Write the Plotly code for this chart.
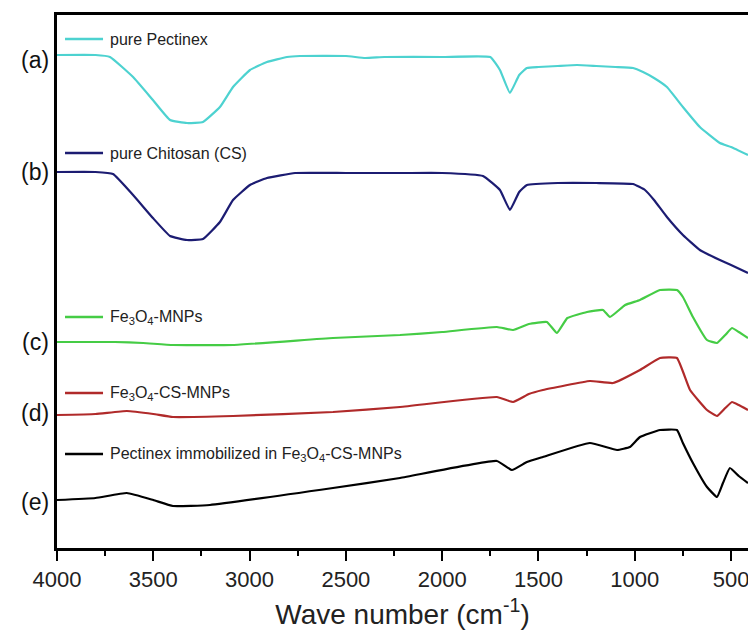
import plotly.graph_objects as go

# Wavenumbers (cm^-1) and offset transmittance (arbitrary units)
wn_a = [4000, 3800, 3725, 3605, 3502, 3413, 3325, 3242, 3154, 3086, 2998, 2910, 2806, 2738, 2500, 2400, 2300, 2000,
        1750, 1700, 1648, 1600, 1560, 1500, 1400, 1300, 1200, 1100, 1009, 957, 900, 833, 750, 662, 558, 500, 412]
t_a = [493, 493, 491, 471, 448, 428, 425, 426, 441, 461, 478, 486, 491, 492, 492, 490, 491, 491,
       491, 478, 455, 473, 480, 481, 482, 483, 482, 481, 480, 476, 470, 461, 441, 421, 405, 401, 393]

wn_b = [4000, 3800, 3709, 3605, 3502, 3413, 3325, 3242, 3154, 3086, 2998, 2910, 2764, 2500, 2200, 2000,
        1788, 1700, 1648, 1600, 1560, 1400, 1200, 1009, 947, 900, 833, 750, 662, 558, 500, 412]
t_b = [376, 376, 374, 353, 330, 312, 308, 309, 326, 348, 363, 370, 375, 375, 375, 375,
       372, 358, 338, 356, 363, 365, 365, 364, 358, 348, 331, 313, 298, 288, 283, 275]

wn_c = [4000, 3700, 3553, 3398, 3086, 2567, 2219, 2000, 1716, 1632, 1550, 1456, 1404, 1350, 1248, 1165, 1129,
        1050, 973, 869, 781, 750, 698, 625, 573, 530, 495, 460, 412]
t_c = [206, 206, 205, 203, 203, 210, 213, 216, 221, 218, 224, 226, 215, 230, 236, 238, 231,
       243, 248, 258, 258, 251, 231, 208, 205, 213, 220, 216, 210]

wn_d = [4000, 3800, 3637, 3500, 3398, 3086, 2567, 2219, 1716, 1632, 1550, 1477, 1233, 1113, 973, 869, 781,
        713, 625, 573, 530, 495, 460, 412]
t_d = [133, 134, 137, 134, 131, 132, 136, 141, 151, 146, 154, 158, 167, 165, 178, 190, 190,
       158, 138, 132, 140, 146, 143, 138]

wn_e = [4000, 3800, 3637, 3500, 3398, 3206, 2567, 2219, 1716, 1638, 1560, 1477, 1233, 1092, 1025, 973, 869,
        781, 750, 698, 625, 573, 542, 506, 460, 412]
t_e = [48, 50, 55, 48, 42, 43, 60, 70, 87, 78, 86, 91, 105, 98, 101, 111, 118,
       118, 105, 85, 61, 51, 65, 80, 72, 65]

names = ["pure Pectinex", "pure Chitosan (CS)", "Fe<sub>3</sub>O<sub>4</sub>-MNPs",
         "Fe<sub>3</sub>O<sub>4</sub>-CS-MNPs", "Pectinex immobilized in Fe<sub>3</sub>O<sub>4</sub>-CS-MNPs"]
tags = ["(a)", "(b)", "(c)", "(d)", "(e)"]
colors = ["#4dd2d0", "#1c1c72", "#45cc45", "#b02a2a", "#000000"]
tag_y = [488, 376, 206, 135, 46]
legend_y = [509, 395, 231, 155, 94]

xs = [wn_a, wn_b, wn_c, wn_d, wn_e]
ys = [t_a, t_b, t_c, t_d, t_e]

fig = go.Figure()
for x, y, c, n in zip(xs, ys, colors, names):
    fig.add_trace(go.Scatter(x=x, y=y, mode="lines", name=n,
                             line=dict(color=c, width=2.2, shape="spline", smoothing=0.35),
                             showlegend=False))

annotations = []
shapes = []
for tag, ty in zip(tags, tag_y):
    annotations.append(dict(x=-0.008, xref="paper", y=ty, yref="y", text=tag, showarrow=False,
                            xanchor="right", yanchor="middle",
                            font=dict(family="Liberation Sans, Arial", size=23, color="#111")))
for n, c, ly in zip(names, colors, legend_y):
    shapes.append(dict(type="line", xref="paper", yref="y", x0=0.0116, x1=0.0666, y0=ly, y1=ly,
                       line=dict(color=c, width=2.5)))
    annotations.append(dict(x=0.074, xref="paper", y=ly, yref="y", text=n, showarrow=False,
                            xanchor="left", yanchor="middle",
                            font=dict(family="Liberation Sans, Arial", size=16, color="#222")))

fig.update_layout(
    width=748, height=635,
    margin=dict(l=57, r=0, t=15, b=87),
    plot_bgcolor="white", paper_bgcolor="white",
    annotations=annotations, shapes=shapes,
    xaxis=dict(range=[4000, 412], tickmode="array",
               tickvals=[4000, 3500, 3000, 2500, 2000, 1500, 1000, 500],
               ticks="outside", ticklen=10, tickwidth=2, tickcolor="black",
               ticklabeloverflow="allow",
               minor=dict(tickvals=[3750, 3250, 2750, 2250, 1750, 1250, 750],
                          ticks="outside", ticklen=5, tickwidth=2, tickcolor="black"),
               showline=True, linecolor="black", linewidth=2.5, mirror=True,
               showgrid=False, zeroline=False,
               tickfont=dict(family="Liberation Sans, Arial", size=22, color="#222"),
               title=dict(text="Wave number (cm<sup>-1</sup>)", standoff=14,
                          font=dict(family="Liberation Sans, Arial", size=28, color="#222"))),
    yaxis=dict(range=[0, 533], showticklabels=False, ticks="", showgrid=False, zeroline=False,
               showline=True, linecolor="black", linewidth=2.5, mirror=False),
)

fig.write_html("out.html")
